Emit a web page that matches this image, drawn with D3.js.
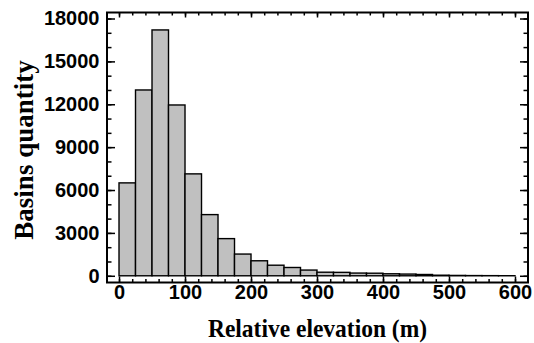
<!DOCTYPE html>
<html>
<head>
<meta charset="utf-8">
<script src="https://cdn.jsdelivr.net/npm/d3@7/dist/d3.min.js"></script>
<style>
  body { margin: 0; background: #fff; }
  svg { display: block; }
</style>
</head>
<body>
<svg id="chart" width="534" height="343"></svg>
<script>
// bin left edges (m), each bin is 25 m wide
const binStarts = [0, 25, 50, 75, 100, 125, 150, 175, 200, 225, 250, 275,
                   300, 325, 350, 375, 400, 425, 450, 475, 500, 525, 550, 575]
const binWidth = 25
// number of basins per bin
const counts = [6500, 13000, 17200, 11950, 7130, 4280, 2600, 1520, 1050, 740, 580, 400,
                250, 240, 190, 180, 140, 120, 90, 40, 25, 15, 10, 5]

const xTicks = [0, 100, 200, 300, 400, 500, 600]
const yTicks = [0, 3000, 6000, 9000, 12000, 15000, 18000]

// frame
const L = 107, R = 528, T = 12.5, B = 282.5

const svg = d3.select('#chart')

const x = d3.scaleLinear().domain([-18.2, 619.7]).range([L, R])
const y = d3.scaleLinear().domain([-470, 18420]).range([B, T])

const xMinor = d3.range(0, 601, 20)
const yMinor = d3.range(0, 18001, 1000)

// bars
svg.append('g')
  .selectAll('rect')
  .data(binStarts)
  .join('rect')
    .attr('x', (d) => x(d))
    .attr('y', (d, i) => y(counts[i]))
    .attr('width', (d) => x(d + binWidth) - x(d))
    .attr('height', (d, i) => y(0) - y(counts[i]))
    .attr('fill', '#c0c0c0')
    .attr('stroke', '#000')
    .attr('stroke-width', 1.4)

// ticks — all pointing inward
function tickAxis(axis, tx, ty) {
  const g = svg.append('g').attr('transform', `translate(${tx},${ty})`).call(axis)
  g.select('.domain').remove()
  g.selectAll('line').attr('stroke', '#000').attr('stroke-width', 1.5)
  return g
}

tickAxis(d3.axisBottom(x).tickValues(xMinor).tickSize(-3.5).tickFormat(''), 0, B)
tickAxis(d3.axisTop(x).tickValues(xMinor).tickSize(-3).tickFormat(''), 0, T)
tickAxis(d3.axisLeft(y).tickValues(yMinor).tickSize(-4.5).tickFormat(''), L, 0)
tickAxis(d3.axisRight(y).tickValues(yMinor).tickSize(-4.5).tickFormat(''), R, 0)

const xAx = tickAxis(d3.axisBottom(x).tickValues(xTicks).tickSize(-6).tickPadding(2)
  .tickFormat(d3.format('d')), 0, B)
tickAxis(d3.axisTop(x).tickValues(xTicks).tickSize(-5).tickFormat(''), 0, T)
const yAx = tickAxis(d3.axisLeft(y).tickValues(yTicks).tickSize(-8).tickPadding(7.5)
  .tickFormat(d3.format('d')), L, 0)
tickAxis(d3.axisRight(y).tickValues(yTicks).tickSize(-8).tickFormat(''), R, 0)

for (const g of [xAx, yAx]) {
  g.selectAll('text')
    .attr('fill', '#000')
    .style('font-family', '"Liberation Sans", Arial, sans-serif')
    .style('font-weight', 'bold')
    .style('font-size', '20px')
}

// frame
svg.append('rect')
  .attr('x', L).attr('y', T)
  .attr('width', R - L).attr('height', B - T)
  .attr('fill', 'none')
  .attr('stroke', '#000')
  .attr('stroke-width', 2)

// axis titles
svg.append('text')
  .attr('transform', `translate(${(L + R) / 2},336.5) scale(0.94,1)`)
  .attr('text-anchor', 'middle')
  .style('font-family', '"Liberation Serif", "Times New Roman", serif')
  .style('font-weight', 'bold')
  .style('font-size', '25px')
  .text('Relative elevation (m)')

svg.append('text')
  .attr('transform', 'translate(33,150) rotate(-90)')
  .attr('text-anchor', 'middle')
  .style('font-family', '"Liberation Serif", "Times New Roman", serif')
  .style('font-weight', 'bold')
  .style('font-size', '27px')
  .text('Basins quantity')
</script>
</body>
</html>
